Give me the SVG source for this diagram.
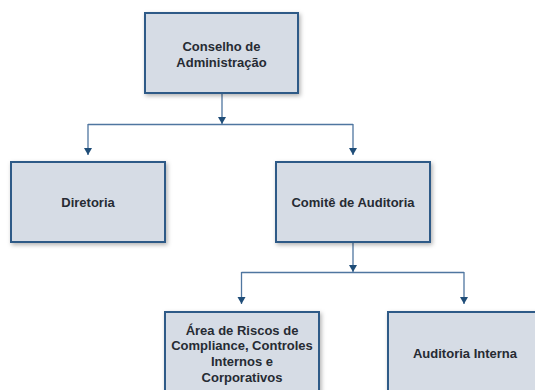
<svg xmlns="http://www.w3.org/2000/svg" width="535" height="390" viewBox="0 0 535 390">
<style>
.box{fill:#d6dce5;stroke:#2e5a87;stroke-width:2;filter:url(#sh)}
.t{font-family:"Liberation Sans",Arial,sans-serif;font-size:13px;font-weight:bold;fill:#262b33;text-anchor:middle}
.c{fill:none;stroke:#4f76a0;stroke-width:1.3}
</style>
<defs>
<filter id="sh" x="-10%" y="-10%" width="125%" height="130%">
<feDropShadow dx="1.5" dy="2" stdDeviation="2" flood-color="#000" flood-opacity="0.3"/>
</filter>
<marker id="ah" markerUnits="userSpaceOnUse" markerWidth="10" markerHeight="9" refX="5" refY="8" orient="auto" viewBox="0 0 10 9">
<path d="M1,1 L9,1 L5,8 Z" fill="#1f4d78" transform="rotate(-90 5 5)"/>
</marker>
<marker id="ad" markerUnits="userSpaceOnUse" markerWidth="10" markerHeight="9" refX="5" refY="8" viewBox="0 0 10 9">
<path d="M1,1 L9,1 L5,8 Z" fill="#1f4d78"/>
</marker>
</defs>
<g id="connectors">
<line class="c" x1="222" y1="94" x2="222" y2="124" marker-end="url(#ad)"/>
<line class="c" x1="88" y1="124.5" x2="353" y2="124.5"/>
<line class="c" x1="88" y1="124" x2="88" y2="155" marker-end="url(#ad)"/>
<line class="c" x1="353" y1="124" x2="353" y2="155" marker-end="url(#ad)"/>
<line class="c" x1="353" y1="243" x2="353" y2="272" marker-end="url(#ad)"/>
<line class="c" x1="241.5" y1="272.5" x2="464" y2="272.5"/>
<line class="c" x1="241.5" y1="272" x2="241.5" y2="304" marker-end="url(#ad)"/>
<line class="c" x1="464" y1="272" x2="464" y2="304" marker-end="url(#ad)"/>
</g>
<g id="conselho">
<rect class="box" x="145" y="13" width="153" height="80"/>
<text class="t" x="221.5" y="51">Conselho de</text>
<text class="t" x="221.5" y="67">Administração</text>
</g>
<g id="diretoria">
<rect class="box" x="11" y="162" width="154" height="80"/>
<text class="t" x="88" y="207">Diretoria</text>
</g>
<g id="comite">
<rect class="box" x="276" y="162" width="154" height="80"/>
<text class="t" x="353" y="207">Comitê de Auditoria</text>
</g>
<g id="area-riscos">
<rect class="box" x="165" y="312" width="154" height="84"/>
<text class="t" x="242" y="334.5">Área de Riscos de</text>
<text class="t" x="242" y="350">Compliance, Controles</text>
<text class="t" x="242" y="366">Internos e</text>
<text class="t" x="242" y="382">Corporativos</text>
</g>
<g id="auditoria-interna">
<rect class="box" x="388" y="312" width="154" height="84"/>
<text class="t" x="465" y="358">Auditoria Interna</text>
</g>
</svg>
